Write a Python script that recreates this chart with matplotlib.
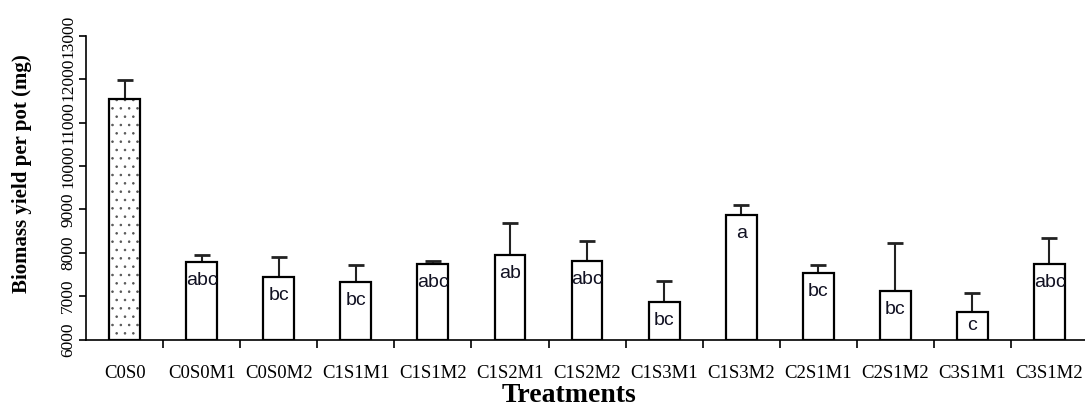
import numpy as np
import matplotlib
matplotlib.use("Agg")
import matplotlib.pyplot as plt
from matplotlib.ticker import FixedLocator

# data
treatments = ["C0S0", "C0S0M1", "C0S0M2", "C1S1M1", "C1S1M2", "C1S2M1", "C1S2M2",
              "C1S3M1", "C1S3M2", "C2S1M1", "C2S1M2", "C3S1M1", "C3S1M2"]
biomass = [11546, 7794, 7434, 7319, 7741, 7942, 7817, 6872, 8871, 7527, 7125, 6641, 7741]
errors = [440, 155, 476, 392, 76, 745, 448, 477, 224, 191, 1093, 424, 593]
letters = ["", "abc", "bc", "bc", "abc", "ab", "abc", "bc", "a", "bc", "bc", "c", "abc"]
yticks = [6000, 7000, 8000, 9000, 10000, 11000, 12000, 13000]
ymin = 6000

plt.rcParams['hatch.linewidth'] = 0.6

fig = plt.figure(figsize=(10.85, 4.07), dpi=100)
ax = fig.add_axes([0.0793, 0.1658, 0.9235, 0.7457])

x = np.arange(len(treatments))
heights = np.array(biomass) - ymin
# dotted fill for the control bar, drawn first with a grey hatch
ax.bar(x[:1], heights[:1], bottom=ymin, width=0.4, color="white",
       edgecolor="#555555", linewidth=0, hatch="..", zorder=2)
ax.bar(x, heights, bottom=ymin, width=0.4,
       color=["none"] + ["white"] * (len(x) - 1),
       edgecolor="black", linewidth=1.6, zorder=3)
ax.errorbar(x, biomass, yerr=[np.zeros(len(errors)), errors], fmt="none",
            ecolor="#222222", elinewidth=1.5, capsize=6, capthick=2, zorder=1)

# significance letters inside the bars
for xi, yi, lab in zip(x, biomass, letters):
    if lab:
        ypos = max(yi - 430, ymin + (yi - ymin) * 0.5)
        ax.text(xi, ypos, lab, ha="center", va="center", fontsize=14,
                family="Liberation Sans", color="#111122", zorder=4)

ax.set_xlim(-0.5, 12.5)
ax.set_ylim(ymin, 13000)
ax.set_yticks(yticks)
ax.set_yticklabels([str(t) for t in yticks], rotation=90, va="center",
                   family="Liberation Serif", fontsize=12.5)
ax.set_xticks(x)
ax.set_xticklabels(treatments, family="Liberation Serif", fontsize=13.5)
ax.tick_params(axis="x", which="major", length=0, pad=18)
ax.xaxis.set_minor_locator(FixedLocator(np.arange(0.5, 12, 1)))
ax.tick_params(axis="x", which="minor", length=6, width=1.2, direction="out")
ax.tick_params(axis="y", length=5, width=1.2, direction="out", pad=2)

for s in ["top", "right"]:
    ax.spines[s].set_visible(False)
for s in ["left", "bottom"]:
    ax.spines[s].set_linewidth(1.2)

ax.set_ylabel("Biomass yield per pot (mg)", family="Liberation Serif",
              fontweight="bold", fontsize=15)
ax.yaxis.set_label_coords(-0.054, 0.545)
ax.set_xlabel("Treatments", family="Liberation Serif", fontweight="bold",
              fontsize=20)
ax.xaxis.set_label_coords(0.482, -0.143)

fig.savefig("out.png", dpi=100)
